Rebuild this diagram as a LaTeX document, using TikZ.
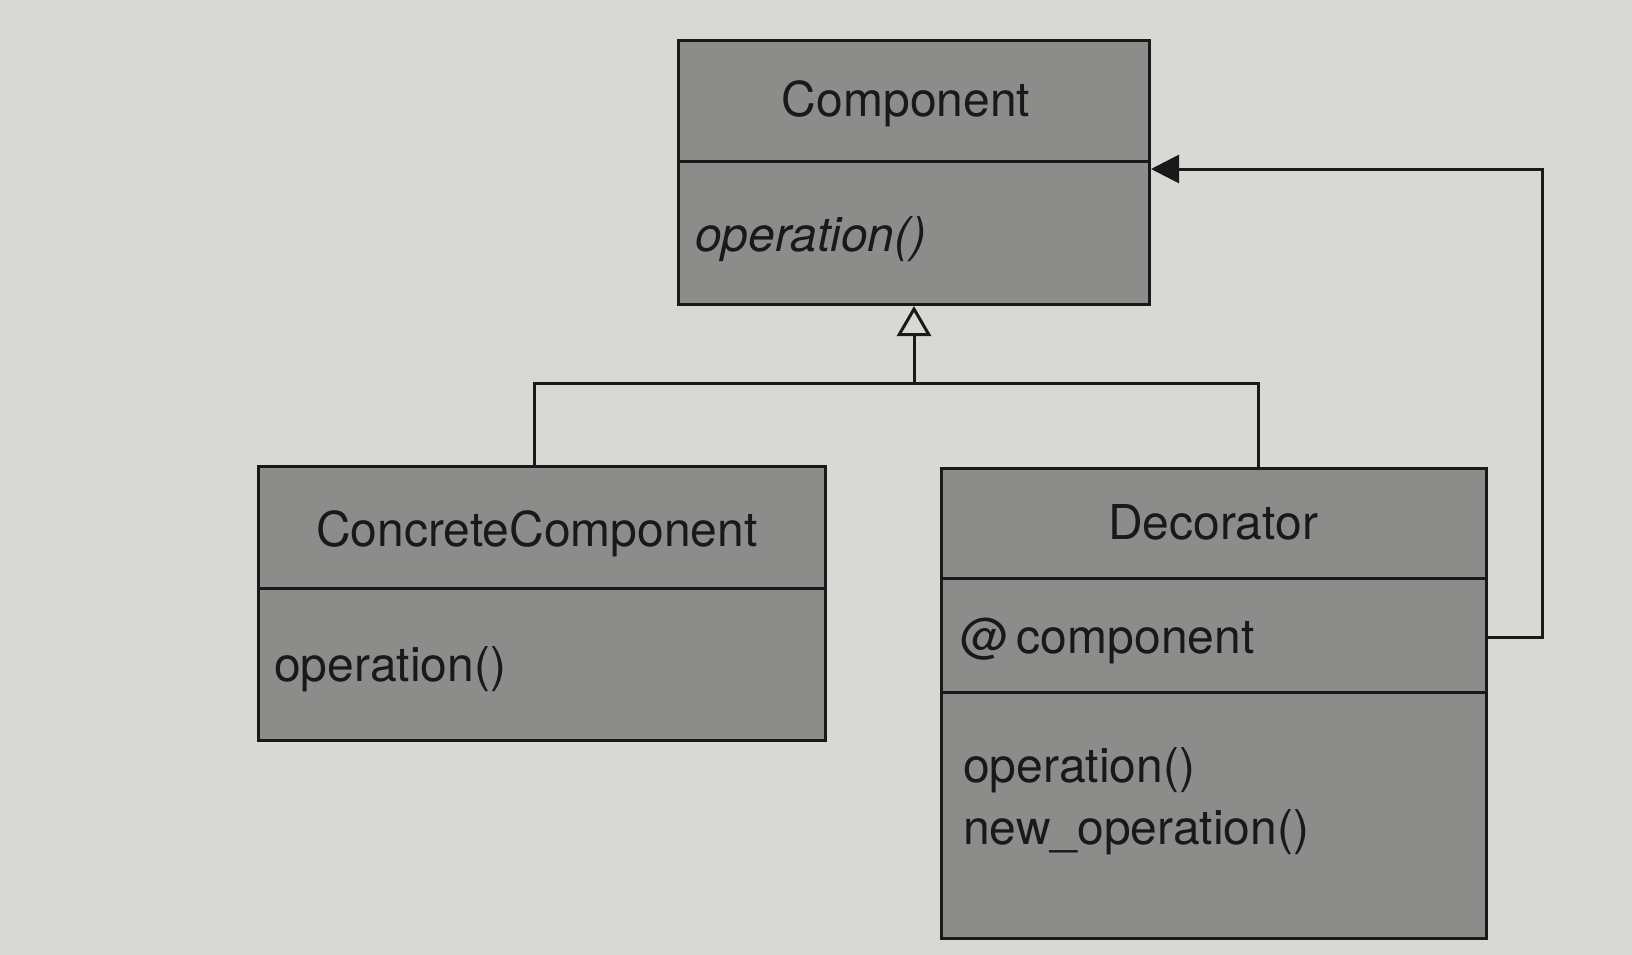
\documentclass[tikz,border=0pt]{standalone}
\usepackage{fontspec}
\setmainfont{TeX Gyre Heros}
\usetikzlibrary{arrows.meta}
\definecolor{bgcol}{RGB}{216,216,212}
\definecolor{boxcol}{RGB}{140,140,138}
\definecolor{inkcol}{RGB}{25,25,25}
\begin{document}
\begin{tikzpicture}[x=1pt,y=-1pt,
  umlbox/.style={draw=inkcol,fill=boxcol,line width=3pt,inner sep=0pt,anchor=north west},
  divline/.style={draw=inkcol,line width=3pt},
  conn/.style={draw=inkcol,line width=3pt},
  txt/.style={inner sep=0pt,text=inkcol,font=\fontsize{48}{56}\selectfont},
  ltxt/.style={txt,anchor=west}]
\useasboundingbox[fill=bgcol] (0,0) rectangle (1632,955);
% Component
\node[umlbox,minimum width=471pt,minimum height=264pt] (comp) at (677,39) {};
\draw[divline] ([yshift=-122pt]comp.north west) -- ([yshift=-122pt]comp.north east);
\node[txt] (compname) at (906,104) {Component};
\node[ltxt] (compop) at (695,239) {\itshape operation()};
% ConcreteComponent
\node[umlbox,minimum width=567pt,minimum height=274pt] (conc) at (257,465) {};
\draw[divline] ([yshift=-123pt]conc.north west) -- ([yshift=-123pt]conc.north east);
\node[txt] (concname) at (537,534) {ConcreteComponent};
\node[ltxt] (concop) at (274,669) {operation()};
% Decorator
\node[umlbox,minimum width=545pt,minimum height=470pt] (dec) at (940,467) {};
\draw[divline] ([yshift=-111pt]dec.north west) -- ([yshift=-111pt]dec.north east);
\draw[divline] ([yshift=-225pt]dec.north west) -- ([yshift=-225pt]dec.north east);
\node[txt] (decname) at (1213,522) {Decorator};
\node[ltxt] (decattr) at (960,641) {@\,component};
\node[ltxt] (decop1) at (963,770) {operation()};
\node[ltxt] (decop2) at (963,832) {new\_operation()};
% inheritance
\coordinate (junc) at (comp.south |- 0,383);
\draw[conn] ([xshift=-8pt]conc.north) |- (junc) -| ([xshift=44pt]dec.north);
\draw[conn,-{Triangle[open,length=30pt,width=34pt,line width=3pt]}] (junc) -- (comp.south);
% association
\coordinate (assocR) at (1542,637);
\coordinate (assocT) at (1542,169);
\draw[conn] (dec.east |- assocR) -- (assocR) -- (assocT)
  -- ([yshift=-130pt]comp.north east) [-{Triangle[length=28pt,width=28pt]}];
\end{tikzpicture}
\end{document}
